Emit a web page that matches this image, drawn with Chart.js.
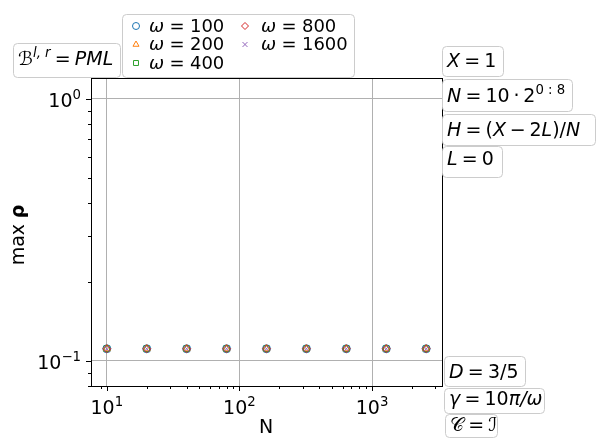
<!DOCTYPE html>
<html>
<head>
<meta charset="utf-8">
<script src="https://cdn.jsdelivr.net/npm/chart.js@4/dist/chart.umd.min.js"></script>
<style>
  html, body { margin: 0; padding: 0; background: #fff; }
  #wrap { width: 598px; height: 446px; position: relative; }
</style>
</head>
<body>
<div id="wrap"><canvas id="c"></canvas></div>
<script>
  "use strict";

  // data
  var N_VALUES = [10, 20, 40, 80, 160, 320, 640, 1280, 2560];
  var OMEGAS = [100, 200, 400, 800, 1600];
  var RHO_100 = [0.111, 0.111, 0.111, 0.111, 0.111, 0.111, 0.111, 0.111, 0.111];
  var RHO_200 = [0.111, 0.111, 0.111, 0.111, 0.111, 0.111, 0.111, 0.111, 0.111];
  var RHO_400 = [0.111, 0.111, 0.111, 0.111, 0.111, 0.111, 0.111, 0.111, 0.111];
  var RHO_800 = [0.111, 0.111, 0.111, 0.111, 0.111, 0.111, 0.111, 0.111, 0.111];
  var RHO_1600 = [0.111, 0.111, 0.111, 0.111, 0.111, 0.111, 0.111, 0.111, 0.111];
  var X_LIMITS = [7.6, 3370];
  var Y_LIMITS = [0.08, 1.2];

  var SERIES = [RHO_100, RHO_200, RHO_400, RHO_800, RHO_1600];
  var COLORS = ["#1f77b4", "#ff7f0e", "#2ca02c", "#d62728", "#9467bd"];
  var MARKERS = ["circle", "triangle", "rect", "rectRot", "crossRot"];
  var FONT = '"DejaVu Sans"';
  var FS = 19;

  function isPow10(v) {
    var e = Math.log10(v);
    return Math.abs(e - Math.round(e)) < 1e-9;
  }
  function isNice(v) {
    var m = v / Math.pow(10, Math.floor(Math.log10(v) + 1e-9));
    return Math.abs(m - Math.round(m)) < 1e-6;
  }

  // small "mathtext": segments {t, i(talic), b(old), s(uperscript)} or {g: gap in em}
  function setFont(ctx, s, size) {
    var fs = s.s ? size * 0.7 : size;
    ctx.font = (s.i ? "italic " : "") + (s.b ? "bold " : "") + fs + "px " + FONT;
  }
  function segW(ctx, s, size) {
    if (s.g) return s.g * size;
    setFont(ctx, s, size);
    return ctx.measureText(s.t).width;
  }
  function richWidth(ctx, segs, size) {
    return segs.reduce(function (w, s) { return w + segW(ctx, s, size); }, 0);
  }
  function drawRich(ctx, segs, x, y, size) {
    ctx.textAlign = "left";
    ctx.textBaseline = "alphabetic";
    segs.forEach(function (s) {
      if (!s.g) {
        setFont(ctx, s, size);
        ctx.fillText(s.t, x, s.s ? y - size * 0.44 : y);
      }
      x += segW(ctx, s, size);
    });
    return x;
  }
  function roundBox(ctx, x, y, w, h) {
    ctx.save();
    ctx.beginPath();
    ctx.roundRect(x + 0.5, y + 0.5, w, h, 4);
    ctx.fillStyle = "rgba(255,255,255,0.9)";
    ctx.fill();
    ctx.strokeStyle = "#cccccc";
    ctx.lineWidth = 1;
    ctx.stroke();
    ctx.restore();
  }
  function powLabel(v) {
    return [{ t: "10" }, { t: String(Math.round(Math.log10(v))).replace("-", "\u2212"), s: 1 }];
  }

  function eq(lhs, rhs, gap) {
    var g = gap || 0.22;
    return lhs.concat([{ g: g }, { t: "=" }, { g: g }], rhs);
  }

  // annotation boxes around the axes: [x, y, w, h], baseline and text
  var NOTES = [
    { box: [13, 43, 107, 34], bl: 65, segs: eq([{ t: "\u212C" }, { t: "l, r", i: 1, s: 1 }], [{ t: "PML", i: 1 }]) },
    { box: [442, 46, 61, 30], bl: 67, segs: eq([{ t: "X", i: 1 }], [{ t: "1" }]) },
    { box: [442, 79, 130, 32], bl: 102, segs: eq([{ t: "N", i: 1 }], [{ t: "10" }, { g: 0.2 }, { t: "\u00B7" }, { g: 0.2 }, { t: "2" }, { t: "0 : 8", s: 1 }]) },
    { box: [442, 114, 153, 31], bl: 136, segs: eq([{ t: "H", i: 1 }], [{ t: "(" }, { t: "X", i: 1 }, { g: 0.2 }, { t: "\u2212" }, { g: 0.2 }, { t: "2" }, { t: "L", i: 1 }, { t: ")/" }, { t: "N", i: 1 }]) },
    { box: [442, 146, 60, 31], bl: 165, segs: eq([{ t: "L", i: 1 }], [{ t: "0" }]) },
    { box: [444, 356, 81, 30], bl: 378, segs: eq([{ t: "D", i: 1 }], [{ t: "3/5" }]) },
    { box: [444, 388, 100, 25], bl: 405, segs: eq([{ t: "\u03B3", i: 1 }], [{ t: "10" }, { t: "\u03C0/\u03C9", i: 1 }]) },
    { box: [445, 414, 52, 23], bl: 431, segs: eq([{ t: "\uD835\uDC9E" }], [{ t: "\u2110" }]) }
  ];

  function drawMarker(ctx, style, color, x, y, r) {
    if (Chart.helpers && Chart.helpers.drawPoint) {
      ctx.save();
      ctx.strokeStyle = color;
      ctx.fillStyle = "rgba(0,0,0,0)";
      ctx.lineWidth = 1;
      Chart.helpers.drawPoint(ctx, { pointStyle: style, radius: r, rotation: 0, borderWidth: 1 }, x, y);
      ctx.restore();
    }
  }

  var decor = {
    id: "decor",
    beforeDraw: function (chart) {
      var ctx = chart.ctx;
      ctx.save();
      ctx.fillStyle = "#fff";
      ctx.fillRect(0, 0, chart.width, chart.height);
      ctx.restore();
    },
    afterDraw: function (chart) {
      var ctx = chart.ctx, a = chart.chartArea;
      var xs = chart.scales.x, ys = chart.scales.y;
      ctx.save();

      // frame
      ctx.strokeStyle = "#000";
      ctx.lineWidth = 1;
      ctx.strokeRect(Math.round(a.left) + 0.5, Math.round(a.top) + 0.5, Math.round(a.right - a.left), Math.round(a.bottom - a.top));

      // ticks and tick labels
      ctx.fillStyle = "#000";
      ctx.beginPath();
      xs.ticks.forEach(function (t) {
        var px = Math.round(xs.getPixelForValue(t.value)) + 0.5;
        var len = isPow10(t.value) ? 5 : 3;
        ctx.moveTo(px, a.bottom);
        ctx.lineTo(px, a.bottom + len);
      });
      ys.ticks.forEach(function (t) {
        var py = Math.round(ys.getPixelForValue(t.value)) + 0.5;
        var len = isPow10(t.value) ? 5 : 3;
        ctx.moveTo(a.left, py);
        ctx.lineTo(a.left - len, py);
      });
      ctx.stroke();

      xs.ticks.forEach(function (t) {
        if (!isPow10(t.value)) return;
        var segs = powLabel(t.value);
        var px = xs.getPixelForValue(t.value);
        drawRich(ctx, segs, px - richWidth(ctx, segs, FS) / 2, a.bottom + 28, FS);
      });
      ys.ticks.forEach(function (t) {
        if (!isPow10(t.value)) return;
        var segs = powLabel(t.value);
        var py = ys.getPixelForValue(t.value);
        drawRich(ctx, segs, a.left - 10 - richWidth(ctx, segs, FS), py + 8.5, FS);
      });

      // axis titles
      var nx = [{ t: "N" }];
      drawRich(ctx, nx, 266 - richWidth(ctx, nx, FS) / 2, 433, FS);
      var yl = [{ t: "max" }, { g: 0.3 }, { t: "\u03C1", b: 1 }];
      ctx.save();
      ctx.translate(24, 235);
      ctx.rotate(-Math.PI / 2);
      drawRich(ctx, yl, -richWidth(ctx, yl, FS) / 2, 0, FS);
      ctx.restore();

      // legend, two columns
      roundBox(ctx, 122, 14, 232, 63);
      var rowsY = [26, 44.5, 63];
      chart.data.datasets.forEach(function (ds, i) {
        var col = Math.floor(i / 3), row = i % 3;
        var mx = col ? 245 : 136, tx = col ? 261 : 149, y = rowsY[row];
        drawMarker(ctx, MARKERS[i], COLORS[i], mx, y, 3.5);
        ctx.fillStyle = "#000";
        drawRich(ctx, eq([{ t: "\u03C9", i: 1 }], [{ t: String(OMEGAS[i]) }], 0.3), tx, y + 5.5, 18);
      });

      // annotation boxes
      NOTES.forEach(function (n) {
        var b = n.box;
        roundBox(ctx, b[0], b[1], b[2], b[3]);
        ctx.fillStyle = "#000";
        drawRich(ctx, n.segs, b[0] + 5, n.bl, FS);
      });

      ctx.restore();
    }
  };

  var datasets = OMEGAS.map(function (w, i) {
    return {
      label: "\u03C9 = " + w,
      data: N_VALUES.map(function (n, k) { return { x: n, y: SERIES[i][k] }; }),
      pointStyle: MARKERS[i],
      pointRadius: 4,
      pointBorderWidth: 1,
      borderColor: COLORS[i],
      backgroundColor: "rgba(0,0,0,0)",
      showLine: false,
      order: -i
    };
  });

  function keepNice(scale) {
    scale.ticks = scale.ticks.filter(function (t) { return isNice(t.value); });
  }
  function gridColor(ctx) {
    return ctx.tick && isPow10(ctx.tick.value) ? "#b0b0b0" : "rgba(0,0,0,0)";
  }

  new Chart(document.getElementById("c"), {
    type: "scatter",
    data: { datasets: datasets },
    plugins: [decor],
    options: {
      responsive: true,
      maintainAspectRatio: false,
      animation: false,
      devicePixelRatio: 1,
      layout: { padding: { left: 0, top: 78, right: 156, bottom: 0 } },
      plugins: { legend: { display: false }, tooltip: { enabled: false } },
      scales: {
        x: {
          type: "logarithmic",
          min: X_LIMITS[0], max: X_LIMITS[1],
          afterBuildTicks: keepNice,
          afterFit: function (s) { s.height = 60; },
          ticks: { display: false },
          grid: { color: gridColor, drawTicks: false, lineWidth: 1 },
          border: { display: false }
        },
        y: {
          type: "logarithmic",
          min: Y_LIMITS[0], max: Y_LIMITS[1],
          afterBuildTicks: keepNice,
          afterFit: function (s) { s.width = 91; },
          ticks: { display: false },
          grid: { color: gridColor, drawTicks: false, lineWidth: 1 },
          border: { display: false }
        }
      }
    }
  });
</script>
</body>
</html>
